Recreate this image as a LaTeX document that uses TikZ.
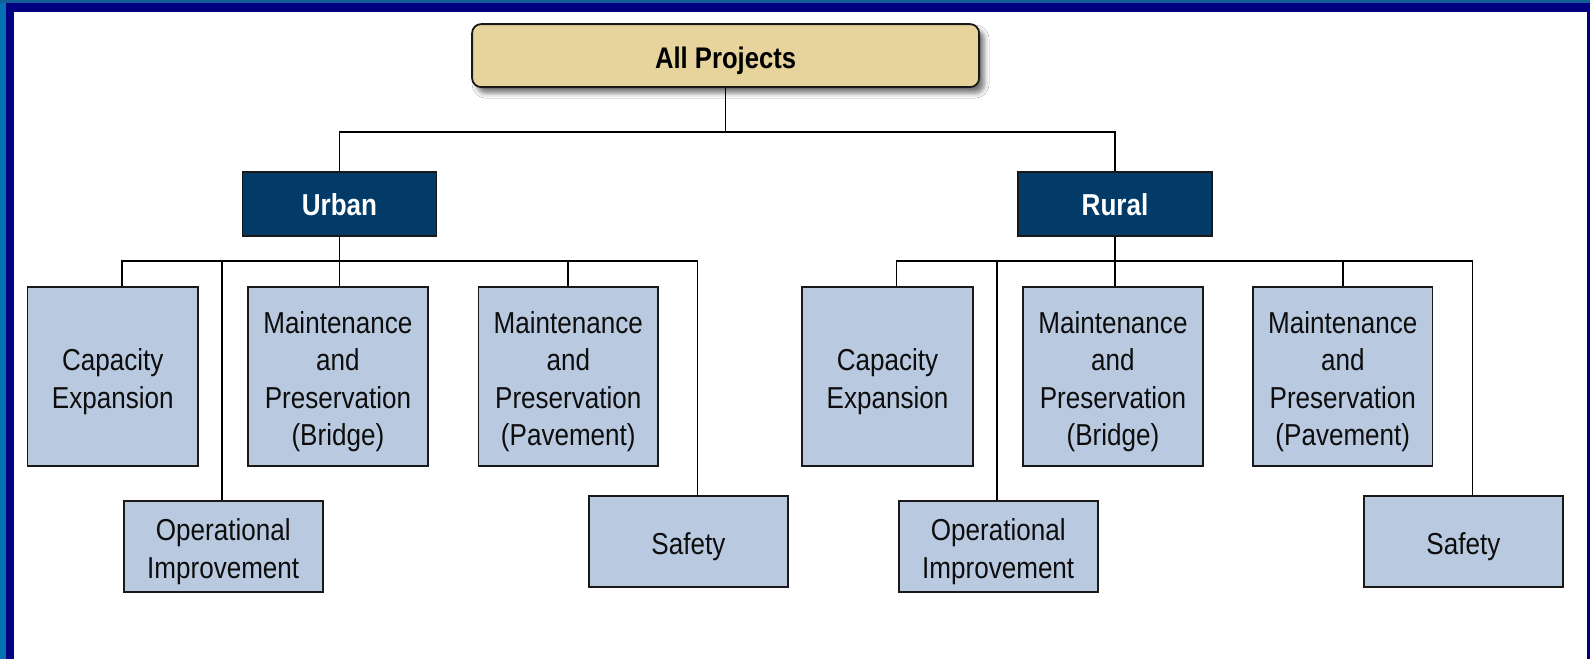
\documentclass[tikz,border=0pt]{standalone}
\usepackage{fontspec}
\setmainfont{Liberation Sans}[FakeStretch=0.86]
\usetikzlibrary{shadows.blur}

\definecolor{frameouter}{HTML}{0670B4}
\definecolor{frametop}{HTML}{135F98}
\definecolor{framenavy}{HTML}{000080}
\definecolor{roottan}{HTML}{E7D49D}
\definecolor{headnavy}{HTML}{023A68}
\definecolor{boxblue}{HTML}{B9CAE0}

% a zero-width strut on the first line sets the text a little lower in its box
\newcommand{\toppad}[1]{\rule{0pt}{#1}}
\newcommand{\padded}{\toppad{32.5pt}}

\tikzset{
  rootbox/.style={draw=black!90, line width=1.8pt, fill=roottan, rounded corners=9pt,
    inner sep=0pt, minimum width=507pt, minimum height=63pt,
    blur shadow={shadow xshift=5pt, shadow yshift=-6pt, shadow blur radius=5pt, shadow opacity=55},
    font=\bfseries\fontsize{29.8}{35}\selectfont, text=black,
    execute at begin node={\toppad{31.5pt}}},
  headbox/.style={draw=black!90, line width=1.8pt, fill=headnavy, inner sep=0pt,
    minimum width=194pt, minimum height=64pt,
    font=\bfseries\fontsize{30.3}{36}\selectfont, text=white,
    execute at begin node={\toppad{24pt}}},
  catbox/.style={draw=black!90, line width=1.8pt, fill=boxblue, inner sep=0pt, align=center,
    font=\fontsize{30.3}{37.5}\selectfont, text=black!95},
  tallbox/.style={catbox, minimum height=179.5pt},
  lowbox/.style={catbox, minimum width=199pt, minimum height=91pt},
  link/.style={draw=black, line width=1.7pt}
}

\begin{document}
\begin{tikzpicture}[x=1pt,y=-1pt]
  \useasboundingbox (0,0) rectangle (1590,659);

  % slide frame: blue edge, navy band, white page
  \fill[frameouter] (0,0) rectangle (1590,659);
  \fill[frametop] (0,0) rectangle (1590,3.3);
  \fill[framenavy] (6,3.3) rectangle (1590,659);
  \fill[white] (14,11.7) rectangle (1587.3,659);

  % root
  \node[rootbox] (root) at (725.6,55.6) {All Projects};

  % region heads
  \node[headbox] (urban) at (339.5,203.7) {Urban};
  \node[headbox] (rural) at (1115,203.7) {Rural};

  % urban categories
  \node[tallbox, minimum width=170.5pt] (u1) at (112.75,376.6) {\padded Capacity\\Expansion};
  \node[lowbox] (u2) at (223.2,546.3) {\padded Operational\\Improvement};
  \node[tallbox, minimum width=179.7pt] (u3) at (337.9,376.4) {\padded Maintenance\\and\\Preservation\\(Bridge)};
  \node[tallbox, minimum width=179.5pt] (u4) at (568.3,376.4) {\padded Maintenance\\and\\Preservation\\(Pavement)};
  \node[lowbox] (u5) at (688.4,541.6) {\padded Safety};

  % rural categories
  \node[tallbox, minimum width=170.5pt] (r1) at (887.5,376.6) {\padded Capacity\\Expansion};
  \node[lowbox] (r2) at (998.2,546.3) {\padded Operational\\Improvement};
  \node[tallbox, minimum width=179.7pt] (r3) at (1112.9,376.4) {\padded Maintenance\\and\\Preservation\\(Bridge)};
  \node[tallbox, minimum width=179.5pt] (r4) at (1342.8,376.4) {\padded Maintenance\\and\\Preservation\\(Pavement)};
  \node[lowbox] (r5) at (1463.4,541.6) {\padded Safety};

  % bus junctions
  \coordinate (tb) at (725.6,131.7);
  \coordinate (ub) at (339.5,260.7);
  \coordinate (rb) at (1115,260.7);

  % root to regions
  \draw[link] (root.south) -- (tb);
  \draw[link] (tb) -| (urban.north);
  \draw[link] (tb) -| (rural.north);

  % urban to categories
  \draw[link] (urban.south) -- (ub);
  \draw[link] (ub) -| ([xshift=9pt]u1.north);
  \draw[link] (ub) -| ([xshift=-1.5pt]u2.north);
  \draw[link] (ub) -- (ub |- u3.north);
  \draw[link] (ub) -| (u4.north);
  \draw[link] (ub) -| ([xshift=9.2pt]u5.north);

  % rural to categories
  \draw[link] (rural.south) -- (rb);
  \draw[link] (rb) -| ([xshift=9pt]r1.north);
  \draw[link] (rb) -| ([xshift=-1.5pt]r2.north);
  \draw[link] (rb) -- (rb |- r3.north);
  \draw[link] (rb) -| (r4.north);
  \draw[link] (rb) -| ([xshift=9.2pt]r5.north);
\end{tikzpicture}
\end{document}
